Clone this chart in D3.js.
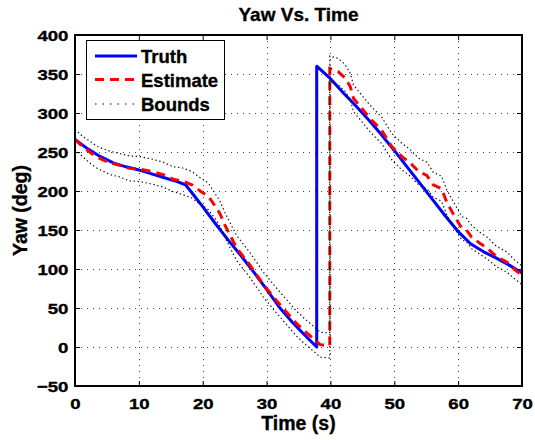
<!DOCTYPE html>
<html>
<head>
<meta charset="utf-8">
<script src="https://cdn.jsdelivr.net/npm/d3@7"></script>
<style>
  body { margin: 0; background: #fff; }
  text { font-family: Arial, "Liberation Sans", Helvetica, sans-serif; font-weight: bold; fill: #000;
         stroke: #000; stroke-width: 0.35px; }
</style>
</head>
<body>
<svg id="chart" width="535" height="440"></svg>
<script>
// Truth yaw (deg) vs time (s); the wrap from 0 to 360 happens at 37.85 s
const truthTime = [0, 2, 4, 6, 8, 10, 12, 14, 16, 17.3, 18, 20, 22, 24, 26, 28, 30, 32, 34, 36, 37.85,
                   37.85, 40, 42, 44, 46, 48, 50, 52, 54, 56, 58, 60, 62, 64, 66, 68, 70];
const truthYaw  = [266, 254, 244, 236, 231, 227, 222, 217, 212, 208, 201, 180, 158, 137, 117, 96, 74, 51, 32, 15, 0,
                   360, 344, 326, 309, 291, 272, 252, 231, 210, 189, 168, 148, 132, 122, 114, 105, 95];

// Filter estimate and its upper / lower bounds, sharing one time base
const estTime = [0, 1.2, 2.3, 3.5, 5.5, 7, 8.5, 10.2, 12, 13.8, 15.4, 16.7, 18.3, 19.6, 20.9, 22, 22.7, 23.5,
                 25.3, 27.4, 29.5, 31.3, 33.1, 34.7, 36, 37.3, 38.4, 39.9,
                 39.9, 41.2, 42.3, 43.1, 43.6, 44.9, 46.2, 48, 49.6, 51.2, 52.5, 53.8, 55.1, 56.1, 57.4, 58.2,
                 59.2, 60.6, 61.3, 62.1, 63.4, 64.5, 66, 67.6, 68.9, 70];
const estYaw = [266, 257, 250, 243, 236, 233, 229, 228, 225, 221, 215, 213, 208, 200, 193, 180, 171, 156,
                127, 105, 80, 62, 45, 30, 20, 11, 3, 2,
                357, 353, 345, 334, 319, 306, 293, 278, 257, 244, 236, 225, 220, 208, 203, 186,
                171, 152, 150, 141, 133, 127, 116, 109, 99, 92];
const upperYaw = [279, 270, 264, 257, 251, 248, 245, 244, 241, 237, 231, 230, 225, 217, 210, 196, 187, 172,
                  143, 121, 96, 78, 61, 46, 36, 27, 19, 18,
                  373, 370, 362, 351, 336, 323, 310, 295, 274, 261, 253, 242, 237, 224, 219, 202,
                  187, 167, 165, 156, 147, 141, 129, 122, 111, 104];
const lowerYaw = [253, 244, 236, 229, 221, 218, 213, 212, 209, 205, 199, 196, 191, 183, 176, 164, 155, 140,
                  111, 89, 64, 46, 29, 14, 4, -5, -13, -14,
                  341, 336, 328, 317, 302, 289, 276, 261, 240, 227, 219, 208, 203, 192, 187, 170,
                  155, 137, 135, 126, 119, 113, 103, 96, 87, 80];

const xTicks = [0, 10, 20, 30, 40, 50, 60, 70];
const yTicks = [-50, 0, 50, 100, 150, 200, 250, 300, 350, 400];
const legendLabels = ["Truth", "Estimate", "Bounds"];

const svg = d3.select("#chart");
const plot = { left: 75, right: 522, top: 35, bottom: 386 };

const x = d3.scaleLinear().domain([0, 70]).range([plot.left, plot.right]);
const y = d3.scaleLinear().domain([-50, 400]).range([plot.bottom, plot.top]);

svg.append("rect").attr("width", 535).attr("height", 440).attr("fill", "#fff");

// dotted grid
const grid = svg.append("g").attr("stroke", "#444").attr("stroke-width", 1)
  .attr("stroke-dasharray", "1,5").attr("fill", "none");
grid.selectAll(".gx").data(xTicks.slice(1, -1)).join("line")
  .attr("x1", d => Math.round(x(d)) + 0.5).attr("x2", d => Math.round(x(d)) + 0.5)
  .attr("y1", plot.top).attr("y2", plot.bottom);
grid.selectAll(".gy").data(yTicks.slice(1, -1)).join("line")
  .attr("y1", d => Math.round(y(d)) + 0.5).attr("y2", d => Math.round(y(d)) + 0.5)
  .attr("x1", plot.left).attr("x2", plot.right);

// data lines, clipped to the axes box
svg.append("clipPath").attr("id", "clip").append("rect")
  .attr("x", plot.left).attr("y", plot.top)
  .attr("width", plot.right - plot.left).attr("height", plot.bottom - plot.top);
const lines = svg.append("g").attr("clip-path", "url(#clip)").attr("fill", "none");

const line = d3.line().x(d => x(d[0])).y(d => y(d[1]));
const truth = truthTime.map((t, i) => [t, truthYaw[i]]);
const est = estTime.map((t, i) => [t, estYaw[i]]);
const upper = estTime.map((t, i) => [t, upperYaw[i]]);
const lower = estTime.map((t, i) => [t, lowerYaw[i]]);

lines.append("path").attr("d", line(truth))
  .attr("stroke", "#0000ff").attr("stroke-width", 3).attr("stroke-linejoin", "round");
lines.append("path").attr("d", line(est))
  .attr("stroke", "#ff0000").attr("stroke-width", 3).attr("stroke-dasharray", "9,6");
[upper, lower].forEach(b => {
  lines.append("path").attr("d", line(b))
    .attr("stroke", "#111").attr("stroke-width", 1.2).attr("stroke-dasharray", "1.4,2.6");
});

// axes with inward ticks on all four sides
const tickLen = 5;
svg.append("g").attr("transform", `translate(0,${plot.bottom})`)
  .call(d3.axisBottom(x).tickValues(xTicks).tickSizeInner(-tickLen).tickSizeOuter(0).tickPadding(0))
  .call(g => g.select(".domain").remove())
  .call(g => g.selectAll("line").attr("stroke", "#000").attr("stroke-width", 1))
  .call(g => g.selectAll("text").attr("font-size", 15.5).attr("y", 23).attr("dy", 0)
    .attr("transform", "scale(1.2,1)"));
svg.append("g").attr("transform", `translate(${plot.left},0)`)
  .call(d3.axisLeft(y).tickValues(yTicks).tickSizeInner(-tickLen).tickSizeOuter(0).tickPadding(0))
  .call(g => g.select(".domain").remove())
  .call(g => g.selectAll("line").attr("stroke", "#000").attr("stroke-width", 1))
  .call(g => g.selectAll("text").attr("font-size", 15.5).attr("x", -5.5).attr("dy", "0.36em")
    .attr("transform", "scale(1.2,1)"));
svg.append("g").attr("transform", `translate(0,${plot.top})`)
  .call(d3.axisTop(x).tickValues(xTicks).tickSizeInner(-tickLen).tickSizeOuter(0).tickFormat(""))
  .call(g => g.select(".domain").remove())
  .call(g => g.selectAll("line").attr("stroke", "#000").attr("stroke-width", 1));
svg.append("g").attr("transform", `translate(${plot.right},0)`)
  .call(d3.axisRight(y).tickValues(yTicks).tickSizeInner(-tickLen).tickSizeOuter(0).tickFormat(""))
  .call(g => g.select(".domain").remove())
  .call(g => g.selectAll("line").attr("stroke", "#000").attr("stroke-width", 1));

svg.append("rect").attr("x", plot.left).attr("y", plot.top)
  .attr("width", plot.right - plot.left).attr("height", plot.bottom - plot.top)
  .attr("fill", "none").attr("stroke", "#000").attr("stroke-width", 2);

// title and axis labels
svg.append("text").attr("x", (plot.left + plot.right) / 2).attr("y", 21)
  .attr("text-anchor", "middle").attr("font-size", 19).text("Yaw Vs. Time");
svg.append("text").attr("x", (plot.left + plot.right) / 2).attr("y", 430)
  .attr("text-anchor", "middle").attr("font-size", 19.5).text("Time (s)");
svg.append("text").attr("transform", `translate(27,${(plot.top + plot.bottom) / 2}) rotate(-90)`)
  .attr("text-anchor", "middle").attr("font-size", 19.5).text("Yaw (deg)");

// legend
const legend = svg.append("g");
legend.append("rect").attr("x", 86.5).attr("y", 40.5).attr("width", 138).attr("height", 79)
  .attr("fill", "#fff").attr("stroke", "#000").attr("stroke-width", 1);
const legendStyles = [
  { stroke: "#0000ff", width: 3, dash: null },
  { stroke: "#ff0000", width: 3, dash: "9,6" },
  { stroke: "#000", width: 1.2, dash: "1.5,6" }
];
const rowY = [56, 79.5, 104];
legendLabels.forEach((label, i) => {
  const s = legendStyles[i];
  legend.append("line").attr("x1", 95).attr("x2", 137).attr("y1", rowY[i]).attr("y2", rowY[i])
    .attr("stroke", s.stroke).attr("stroke-width", s.width).attr("stroke-dasharray", s.dash);
  legend.append("text").attr("x", 141).attr("y", rowY[i] + 7).attr("font-size", 18.5).text(label);
});
</script>
</body>
</html>
